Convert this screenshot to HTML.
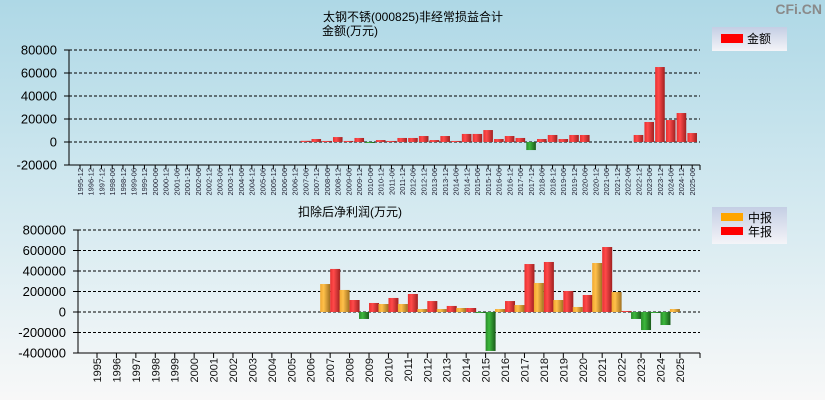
<!DOCTYPE html>
<html><head><meta charset="utf-8">
<style>
html,body{margin:0;padding:0;}
body{width:825px;height:400px;overflow:hidden;font-family:"Liberation Sans","Noto Sans CJK SC",sans-serif;}
svg text{font-family:"Liberation Sans","Noto Sans CJK SC",sans-serif;}
</style></head>
<body>
<svg id="chart" width="825" height="400" xmlns="http://www.w3.org/2000/svg">
<defs>
<linearGradient id="bg" x1="0" y1="0" x2="0" y2="1">
<stop offset="0" stop-color="#aed8e6"/><stop offset="0.5" stop-color="#d3e9f0"/><stop offset="1" stop-color="#f8f8f8"/>
</linearGradient>
<linearGradient id="gRed" x1="0" y1="0" x2="1" y2="0">
<stop offset="0" stop-color="#e83030"/><stop offset="0.35" stop-color="#ff4a4a"/><stop offset="1" stop-color="#a02020"/>
</linearGradient>
<linearGradient id="gOrg" x1="0" y1="0" x2="1" y2="0">
<stop offset="0" stop-color="#f0a830"/><stop offset="0.35" stop-color="#ffc04a"/><stop offset="1" stop-color="#a07020"/>
</linearGradient>
<linearGradient id="gGrn" x1="0" y1="0" x2="1" y2="0">
<stop offset="0" stop-color="#2a8a2a"/><stop offset="0.35" stop-color="#3cb83c"/><stop offset="1" stop-color="#1a5a1a"/>
</linearGradient>
<linearGradient id="gLeg" x1="0" y1="0" x2="0" y2="1">
<stop offset="0" stop-color="#c4cee4"/><stop offset="1" stop-color="#f4f4f8"/>
</linearGradient>
</defs>
<rect x="0" y="0" width="825" height="400" fill="url(#bg)"/>
<text x="822" y="14" text-anchor="end" font-size="14" font-weight="bold" fill="#8a8a8a">CFi.CN</text>
<text x="323" y="21" font-size="12" fill="#000">太钢不锈(000825)非经常损益合计</text>
<text x="322" y="35" font-size="12" fill="#000">金额(万元)</text>
<text x="298" y="216" font-size="12" fill="#000">扣除后净利润(万元)</text>

<g>
<rect x="712" y="27" width="75" height="24" fill="url(#gLeg)"/>
<rect x="721" y="34" width="22" height="9" fill="#ff0000"/>
<text x="747" y="43" font-size="12">金额</text>
</g>
<g>
<rect x="712" y="207" width="75" height="37" fill="url(#gLeg)"/>
<rect x="721" y="213" width="22" height="8" fill="#ffa500"/>
<text x="748" y="222" font-size="12">中报</text>
<rect x="721" y="227" width="22" height="8" fill="#ff0000"/>
<text x="748" y="236" font-size="12">年报</text>
</g>
<g id="top"></g>
<g id="bot"></g>
</svg>
<script>
const topCategories = ["1995-12","1996-12","1997-12","1998-06","1998-12","1999-06","1999-12","2000-06","2000-12","2001-06","2001-12","2002-06","2002-12","2003-06","2003-12","2004-06","2004-12","2005-06","2005-12","2006-06","2006-12","2007-06","2007-12","2008-06","2008-12","2009-06","2009-12","2010-06","2010-12","2011-06","2011-12","2012-06","2012-12","2013-06","2013-12","2014-06","2014-12","2015-06","2015-12","2016-06","2016-12","2017-06","2017-12","2018-06","2018-12","2019-06","2019-12","2020-06","2020-12","2021-06","2021-12","2022-06","2022-12","2023-06","2023-12","2024-06","2024-12","2025-06"];
const topValues = [0,0,0,0,0,0,0,0,0,0,0,0,0,0,0,0,0,0,0,0,0,1000,2600,900,4300,900,3500,-600,1700,900,3500,3500,5200,1700,5200,900,7000,7000,10400,2600,5200,3500,-7000,2600,6100,2600,6100,6100,0,0,0,0,6100,17400,65200,19100,25200,7800];
const topTicks = [80000,60000,40000,20000,0,-20000];
const botYears = ["1995","1996","1997","1998","1999","2000","2001","2002","2003","2004","2005","2006","2007","2008","2009","2010","2011","2012","2013","2014","2015","2016","2017","2018","2019","2020","2021","2022","2023","2024","2025"];
const botInterim = [0,0,0,0,0,0,0,0,0,0,0,0,273000,215000,-68000,78000,78000,29000,29000,39000,-3000,29000,68000,283000,117000,49000,478000,195000,-68000,-8000,29000];
const botAnnual = [0,0,0,0,0,0,0,0,0,0,0,0,420000,117000,88000,137000,176000,107000,59000,39000,-380000,107000,468000,488000,205000,166000,634000,10000,-176000,-127000,0];
const botTicks = [800000,600000,400000,200000,0,-200000,-400000];

const NS="http://www.w3.org/2000/svg";
function mk(parent,tag,attrs){const e=document.createElementNS(NS,tag);for(const k in attrs)e.setAttribute(k,attrs[k]);parent.appendChild(e);return e;}

// top chart
const T=document.getElementById('top');
const tyTop=50, tyBot=165, tMax=80000, tMin=-20000;
function ty(v){return tyTop+(tMax-v)/(tMax-tMin)*(tyBot-tyTop);}
function tx(i){return 80+i*10.74;}
mk(T,'line',{x1:69,y1:tyTop,x2:69,y2:tyBot,stroke:'#000','stroke-width':1});
mk(T,'line',{x1:69,y1:tyBot,x2:700,y2:tyBot,stroke:'#000','stroke-width':1});
mk(T,'line',{x1:700,y1:tyBot,x2:700,y2:tyBot+5,stroke:'#000'});
topTicks.forEach(v=>{
  const y=ty(v);
  if(v!==tMin){const g=mk(T,'line',{x1:69,y1:y,x2:700,y2:y,stroke:'#000','stroke-dasharray':'3,2','stroke-width':1});
  
  }
  mk(T,'line',{x1:64,y1:y,x2:69,y2:y,stroke:'#000'});
  const t=mk(T,'text',{x:57,y:y+4.5,'text-anchor':'end','font-size':13,fill:'#000'});
  t.textContent=v;
  
  
});
topCategories.forEach((c,i)=>{
  const x=tx(i);
  mk(T,'line',{x1:x,y1:tyBot,x2:x,y2:tyBot+4,stroke:'#000'});
  const t=mk(T,'text',{x:0,y:0,'text-anchor':'end','font-size':7.5,fill:'#223',transform:`translate(${x+2.8},${tyBot+3}) rotate(-90)`});
  t.textContent=c;
  
  
  const v=topValues[i];
  if(v!==0){
    const y0=ty(0), y1=ty(v);
    const r=mk(T,'rect',{x:x-4.8,y:Math.min(y0,y1),width:9.6,height:Math.max(1,Math.abs(y1-y0)),fill:v>0?'url(#gRed)':'url(#gGrn)'});
    
    
  }
});

// bottom chart
const B=document.getElementById('bot');
const byTop=230, byBot=353, bMax=800000, bMin=-400000;
function by(v){return byTop+(bMax-v)/(bMax-bMin)*(byBot-byTop);}
function bx(i){return 97+i*19.43;}
mk(B,'line',{x1:78,y1:byTop,x2:78,y2:byBot,stroke:'#000'});
mk(B,'line',{x1:78,y1:byBot,x2:700,y2:byBot,stroke:'#000'});
mk(B,'line',{x1:700,y1:byBot,x2:700,y2:byBot+5,stroke:'#000'});
botTicks.forEach(v=>{
  const y=by(v);
  if(v!==bMin){const g=mk(B,'line',{x1:78,y1:y,x2:700,y2:y,stroke:'#000','stroke-dasharray':'3,2'});
  
  }
  mk(B,'line',{x1:73,y1:y,x2:78,y2:y,stroke:'#000'});
  const t=mk(B,'text',{x:66,y:y+4.5,'text-anchor':'end','font-size':13,fill:'#000'});
  t.textContent=v;
  
  
});
botYears.forEach((yr,i)=>{
  const x=bx(i);
  mk(B,'line',{x1:x,y1:byBot,x2:x,y2:byBot+5,stroke:'#000'});
  const t=mk(B,'text',{x:0,y:0,'text-anchor':'end','font-size':11,fill:'#111',transform:`translate(${x+4},${byBot+5}) rotate(-90)`});
  t.textContent=yr;
  
  
  const y0=by(0);
  const a=botInterim[i];
  if(a!==0){
    const y1=by(a);
    const r=mk(B,'rect',{x:x-10,y:Math.min(y0,y1),width:10,height:Math.max(1,Math.abs(y1-y0)),fill:a>0?'url(#gOrg)':'url(#gGrn)'});
    
    
  }
  const b=botAnnual[i];
  if(b!==0){
    const y1=by(b);
    const r=mk(B,'rect',{x:x,y:Math.min(y0,y1),width:10,height:Math.max(1,Math.abs(y1-y0)),fill:b>0?'url(#gRed)':'url(#gGrn)'});
    
    
  }
});
</script>
</body></html>
